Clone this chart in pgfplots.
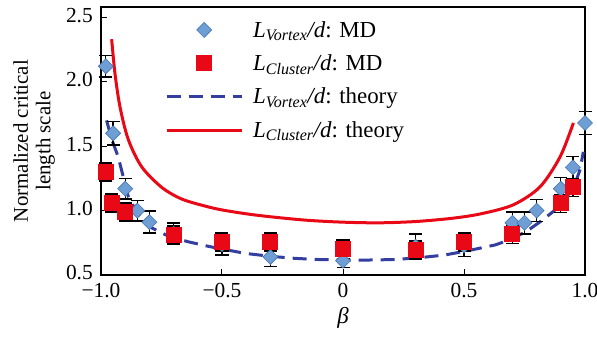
\documentclass[border=0pt]{standalone}
\usepackage{pgfplots}
\pgfplotsset{compat=1.18}
\usepackage{fontspec}
\setmainfont{Liberation Serif}
\definecolor{myred}{RGB}{232,8,22}
\definecolor{myblue}{RGB}{52,62,160}
\definecolor{diafill}{RGB}{110,158,212}
\definecolor{diadraw}{RGB}{70,118,180}
\begin{document}
\begin{tikzpicture}
\begin{axis}[
  scale only axis,
  width=484bp, height=268bp,
  xmin=-1, xmax=1, ymin=0.5, ymax=2.58,
  axis line style={line width=1.2bp, black},
  xtick={-1,-0.5,0,0.5,1},
  xticklabels={−1.0,−0.5,0,0.5,1.0},
  ytick={0.5,1,1.5,2,2.5},
  yticklabels={0.5,1.0,1.5,2.0,2.5},
  tick align=inside,
  tick pos=left,
  major tick length=6bp,
  tick style={line width=1bp, black},
  tick label style={font=\fontsize{21.5}{24}\selectfont},
  xticklabel style={yshift=-7bp, inner sep=1bp},
  yticklabel style={inner sep=1bp, xshift=-7bp, yshift=2bp},
  xlabel={\textit{β}},
  xlabel style={font=\fontsize{23}{25}\selectfont, at={(axis description cs:0.5,0)}, anchor=center, yshift=-43bp},
  ylabel={Normalized critical\\length scale},
  ylabel style={font=\fontsize{21}{22.5}\selectfont, align=center, at={(axis description cs:0,0.5)}, anchor=south, inner sep=0pt, yshift=46bp},
  legend style={draw=none, fill=none, at={(axis description cs:0,1)}, anchor=north west, xshift=64bp, yshift=-12bp,
    font=\fontsize{23}{25}\selectfont, row sep=12bp, column sep=8bp, inner sep=0pt},
  legend cell align=left,
  legend image code/.code={\draw[mark repeat=2,mark phase=2,#1] plot coordinates {(0bp,0bp)(37.5bp,0bp)(75bp,0bp)};},
  clip=false,
]
% theory curves (drawn below markers)
\addplot[myblue, line width=3bp, dash pattern=on 14bp off 8bp, forget plot] coordinates {
(-0.977,1.70) (-0.955,1.55) (-0.929,1.417) (-0.887,1.107) (-0.85,0.98) (-0.80,0.875) (-0.72,0.80) (-0.64,0.758) (-0.55,0.72)
(-0.405,0.668) (-0.30,0.645) (-0.198,0.629) (-0.1,0.62) (0,0.616) (0.1,0.616) (0.215,0.62) (0.32,0.635) (0.42,0.655)
(0.52,0.69) (0.628,0.733) (0.70,0.78) (0.766,0.849) (0.82,0.92) (0.876,1.004) (0.92,1.09) (0.959,1.21) (0.98,1.32) (0.993,1.456)
};
\addplot[myred, line width=3bp, smooth, forget plot] coordinates {
(-0.956,2.33) (-0.942,2.06) (-0.921,1.80) (-0.887,1.55) (-0.832,1.34) (-0.749,1.18) (-0.667,1.09) (-0.57,1.035)
(-0.5,1.005) (-0.4,0.975) (-0.3,0.952) (-0.15,0.925) (0,0.91) (0.15,0.905) (0.3,0.915) (0.45,0.94) (0.57,0.975)
(0.704,1.045) (0.814,1.184) (0.897,1.417) (0.952,1.68)
};
% MD data
\addplot[only marks, mark=square*, mark size=5.3bp, mark options={rotate=45, fill=diafill, draw=diadraw, line width=0.6bp},
  error bars/.cd, y dir=both, y explicit, error bar style={black, line width=1.2bp},
  error mark options={rotate=90, mark size=6.5bp, line width=1.5bp, black}]
  coordinates {
(-0.98,2.12) +- (0,0.085)
(-0.95,1.60) +- (0,0.09)
(-0.90,1.17) +- (0,0.08)
(-0.85,1.00) +- (0,0.08)
(-0.80,0.91) +- (0,0.085)
(-0.70,0.82) +- (0,0.085)
(-0.50,0.74) +- (0,0.085)
(-0.30,0.64) +- (0,0.075)
(0,0.61) +- (0,0.05)
(0.30,0.72) +- (0,0.1)
(0.50,0.73) +- (0,0.085)
(0.70,0.905) +- (0,0.085)
(0.75,0.905) +- (0,0.085)
(0.80,1.00) +- (0,0.085)
(0.90,1.17) +- (0,0.085)
(0.95,1.335) +- (0,0.085)
(1.00,1.68) +- (0,0.09)
};
\addlegendentry{\textit{L}\textsubscript{\textit{Vortex}}\textit{/d}: MD}
\addplot[only marks, mark=square*, mark size=7.5bp, mark options={fill=myred, draw=myred, line width=0bp},
  error bars/.cd, y dir=both, y explicit, error bar style={black, line width=1.2bp},
  error mark options={rotate=90, mark size=6.5bp, line width=1.5bp, black}]
  coordinates {
(-0.98,1.30) +- (0,0.07)
(-0.955,1.06) +- (0,0.07)
(-0.90,0.99) +- (0,0.07)
(-0.70,0.81) +- (0,0.07)
(-0.50,0.755) +- (0,0.07)
(-0.30,0.755) +- (0,0.07)
(0,0.70) +- (0,0.07)
(0.30,0.695) +- (0,0.07)
(0.50,0.755) +- (0,0.07)
(0.70,0.815) +- (0,0.07)
(0.90,1.055) +- (0,0.07)
(0.95,1.18) +- (0,0.07)
};
\addlegendentry{\textit{L}\textsubscript{\textit{Cluster}}\textit{/d}: MD}
\addlegendimage{myblue, line width=3bp, dash pattern=on 14bp off 8bp}
\addlegendentry{\textit{L}\textsubscript{\textit{Vortex}}\textit{/d}: theory}
\addlegendimage{myred, line width=3bp}
\addlegendentry{\textit{L}\textsubscript{\textit{Cluster}}\textit{/d}: theory}
\end{axis}
\pgfresetboundingbox
\path[use as bounding box] (current axis.south west) ++(-101bp,-64bp) rectangle ++(597bp,339bp);
\end{tikzpicture}
\end{document}
